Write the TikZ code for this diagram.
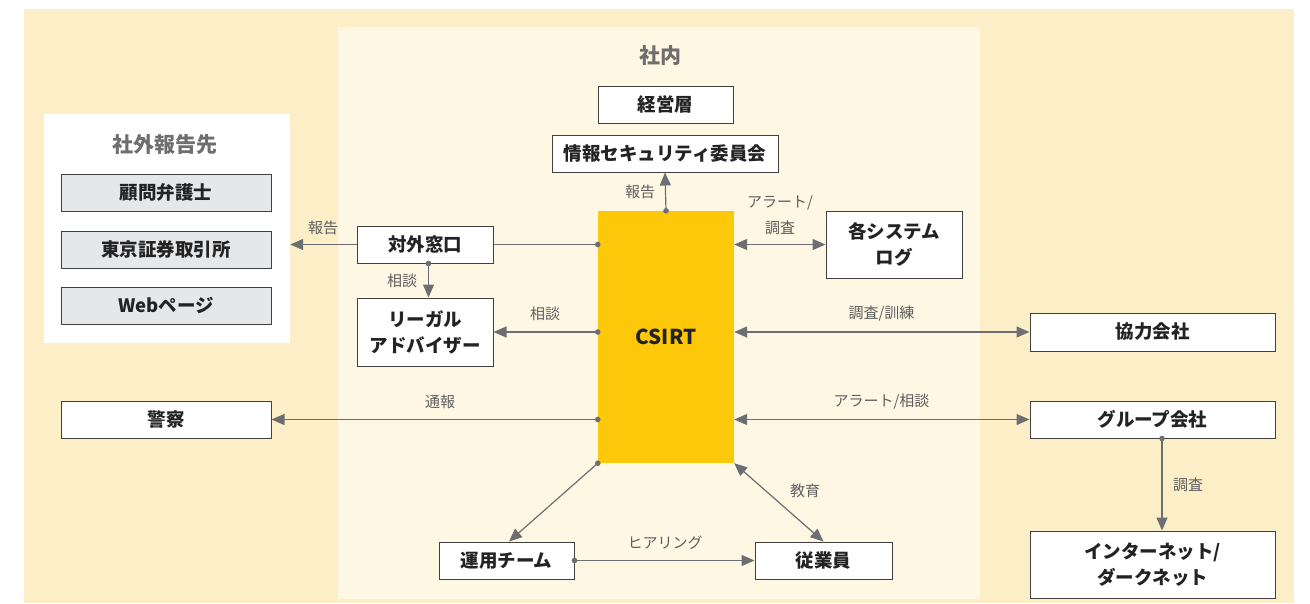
\documentclass[tikz,border=0pt]{standalone}
\usepackage{fontspec}
\setmainfont{Noto Sans CJK JP}
\usetikzlibrary{arrows.meta}
\definecolor{outerbg}{RGB}{252,239,200}
\definecolor{innerbg}{RGB}{253,247,228}
\definecolor{csirtc}{RGB}{253,200,10}
\definecolor{grayboxc}{RGB}{230,231,233}
\definecolor{arrowc}{RGB}{109,110,113}
\definecolor{borderc}{RGB}{64,64,64}
\definecolor{textc}{RGB}{35,35,35}
\definecolor{titlec}{RGB}{110,110,110}
\definecolor{labelc}{RGB}{95,95,95}
\tikzset{
  box/.style={draw=borderc, line width=1pt, fill=white, inner sep=0pt, align=center,
    text=textc, font=\fontsize{18.5}{26}\selectfont\bfseries},
  gbox/.style={box, fill=grayboxc},
  panel/.style={draw=none, inner sep=0pt},
  ttl/.style={text=titlec, font=\fontsize{21}{24}\selectfont\bfseries},
  lbl/.style={text=labelc, font=\fontsize{15}{26}\selectfont, align=center},
  conn/.style={draw=arrowc, line width=1.2pt},
  tip/.style={-{Triangle[length=13pt,width=11pt]}},
  dtip/.style={{Triangle[length=13pt,width=11pt]}-{Triangle[length=13pt,width=11pt]}},
  dottip/.style={{Circle[length=5.5pt]}-{Triangle[length=13pt,width=11pt]}, shorten <=-2.75pt},
  dotline/.style={{Circle[length=5.5pt]}-, shorten <=-2.75pt},
}
\begin{document}
\begin{tikzpicture}[x=1pt,y=-1pt]
\useasboundingbox (0,0) rectangle (1310,603);
\fill[white] (0,0) rectangle (1310,603);
% backgrounds
\node[panel, fill=outerbg, minimum width=1270pt, minimum height=594pt] (outer) at (659,306) {};
\node[panel, fill=innerbg, minimum width=642pt, minimum height=572pt] (inner) at (659,313) {};
\node[panel, fill=white, minimum width=246pt, minimum height=229pt] (ext) at (167,228.5) {};
% titles
\node[ttl] (extt) at (165,145) {社外報告先};
\node[ttl] (innt) at (660,56) {社内};
% external report boxes
\node[gbox, minimum width=210pt, minimum height=37pt] (komon) at (166,192.5) {顧問弁護士};
\node[gbox, minimum width=210pt, minimum height=37pt] (tse) at (166,249.5) {東京証券取引所};
\node[gbox, minimum width=210pt, minimum height=37pt] (web) at (166,305.5) {Webページ};
% internal
\node[box, minimum width=135pt, minimum height=37pt] (keiei) at (665.5,104.5) {経営層};
\node[box, minimum width=226pt, minimum height=37pt] (info) at (665,153.5) {情報セキュリティ委員会};
\node[panel, fill=csirtc, minimum width=136pt, minimum height=252pt, text=textc,
  font=\fontsize{20.5}{24}\selectfont\bfseries] (csirt) at (666,337) {CSIRT};
\node[box, minimum width=136pt, minimum height=67pt] (sys) at (894,244.5) {各システム\\ログ};
\node[box, minimum width=136pt, minimum height=37pt] (gai) at (425,244.5) {対外窓口};
\node[box, minimum width=136pt, minimum height=68pt] (legal) at (425,332) {リーガル\\アドバイザー};
\node[box, minimum width=210pt, minimum height=37pt] (police) at (166,419.5) {警察};
\node[box, minimum width=135pt, minimum height=37pt] (unyo) at (506.5,560.5) {運用チーム};
\node[box, minimum width=137pt, minimum height=37pt] (jugyo) at (823.5,560.5) {従業員};
\node[box, minimum width=245pt, minimum height=38pt] (kyo) at (1152.5,332) {協力会社};
\node[box, minimum width=245pt, minimum height=37pt] (group) at (1152.5,419.5) {グループ会社};
\node[box, minimum width=245pt, minimum height=67pt] (inet) at (1152.5,564.5) {インターネット/\\ダークネット};
% connectors
\draw[conn, dottip] (csirt.north) -- (info.south);
\node[lbl] (l1) at (640,192) {報告};
\draw[conn, dtip] (csirt.east |- sys.west) -- (sys.west);
\node[lbl] (l2) at (780,215) {アラート/\\調査};
\draw[conn, dotline] (csirt.west |- gai.east) -- (gai.east);
\draw[conn, tip] (gai.west) -- (ext.east |- gai.west);
\node[lbl] (l3) at (323,228) {報告};
\draw[conn, dottip] ([xshift=3.5pt]gai.south) -- ([xshift=3.5pt]legal.north);
\node[lbl] (l4) at (402,281) {相談};
\draw[conn, dottip] (csirt.west |- legal.east) -- (legal.east);
\node[lbl] (l5) at (545,314) {相談};
\draw[conn, dottip] (csirt.west |- police.east) -- (police.east);
\node[lbl] (l6) at (440,402) {通報};
\draw[conn, dottip] (csirt.south west) -- ([xshift=2.5pt]unyo.north);
\draw[conn, dottip] (unyo.east) -- (jugyo.west);
\node[lbl] (l7) at (665,543) {ヒアリング};
\draw[conn, dtip] (csirt.south east) -- (jugyo.north);
\node[lbl] (l8) at (805,491) {教育};
\draw[conn, dtip] (csirt.east |- kyo.west) -- (kyo.west);
\node[lbl] (l9) at (881.5,314) {調査/訓練};
\draw[conn, dtip] (csirt.east |- group.west) -- (group.west);
\node[lbl] (l10) at (881.5,402) {アラート/相談};
\draw[conn, dottip] ([xshift=9.5pt]group.south) -- ([xshift=9.5pt]inet.north);
\node[lbl] (l11) at (1188,485) {調査};
\end{tikzpicture}
\end{document}
